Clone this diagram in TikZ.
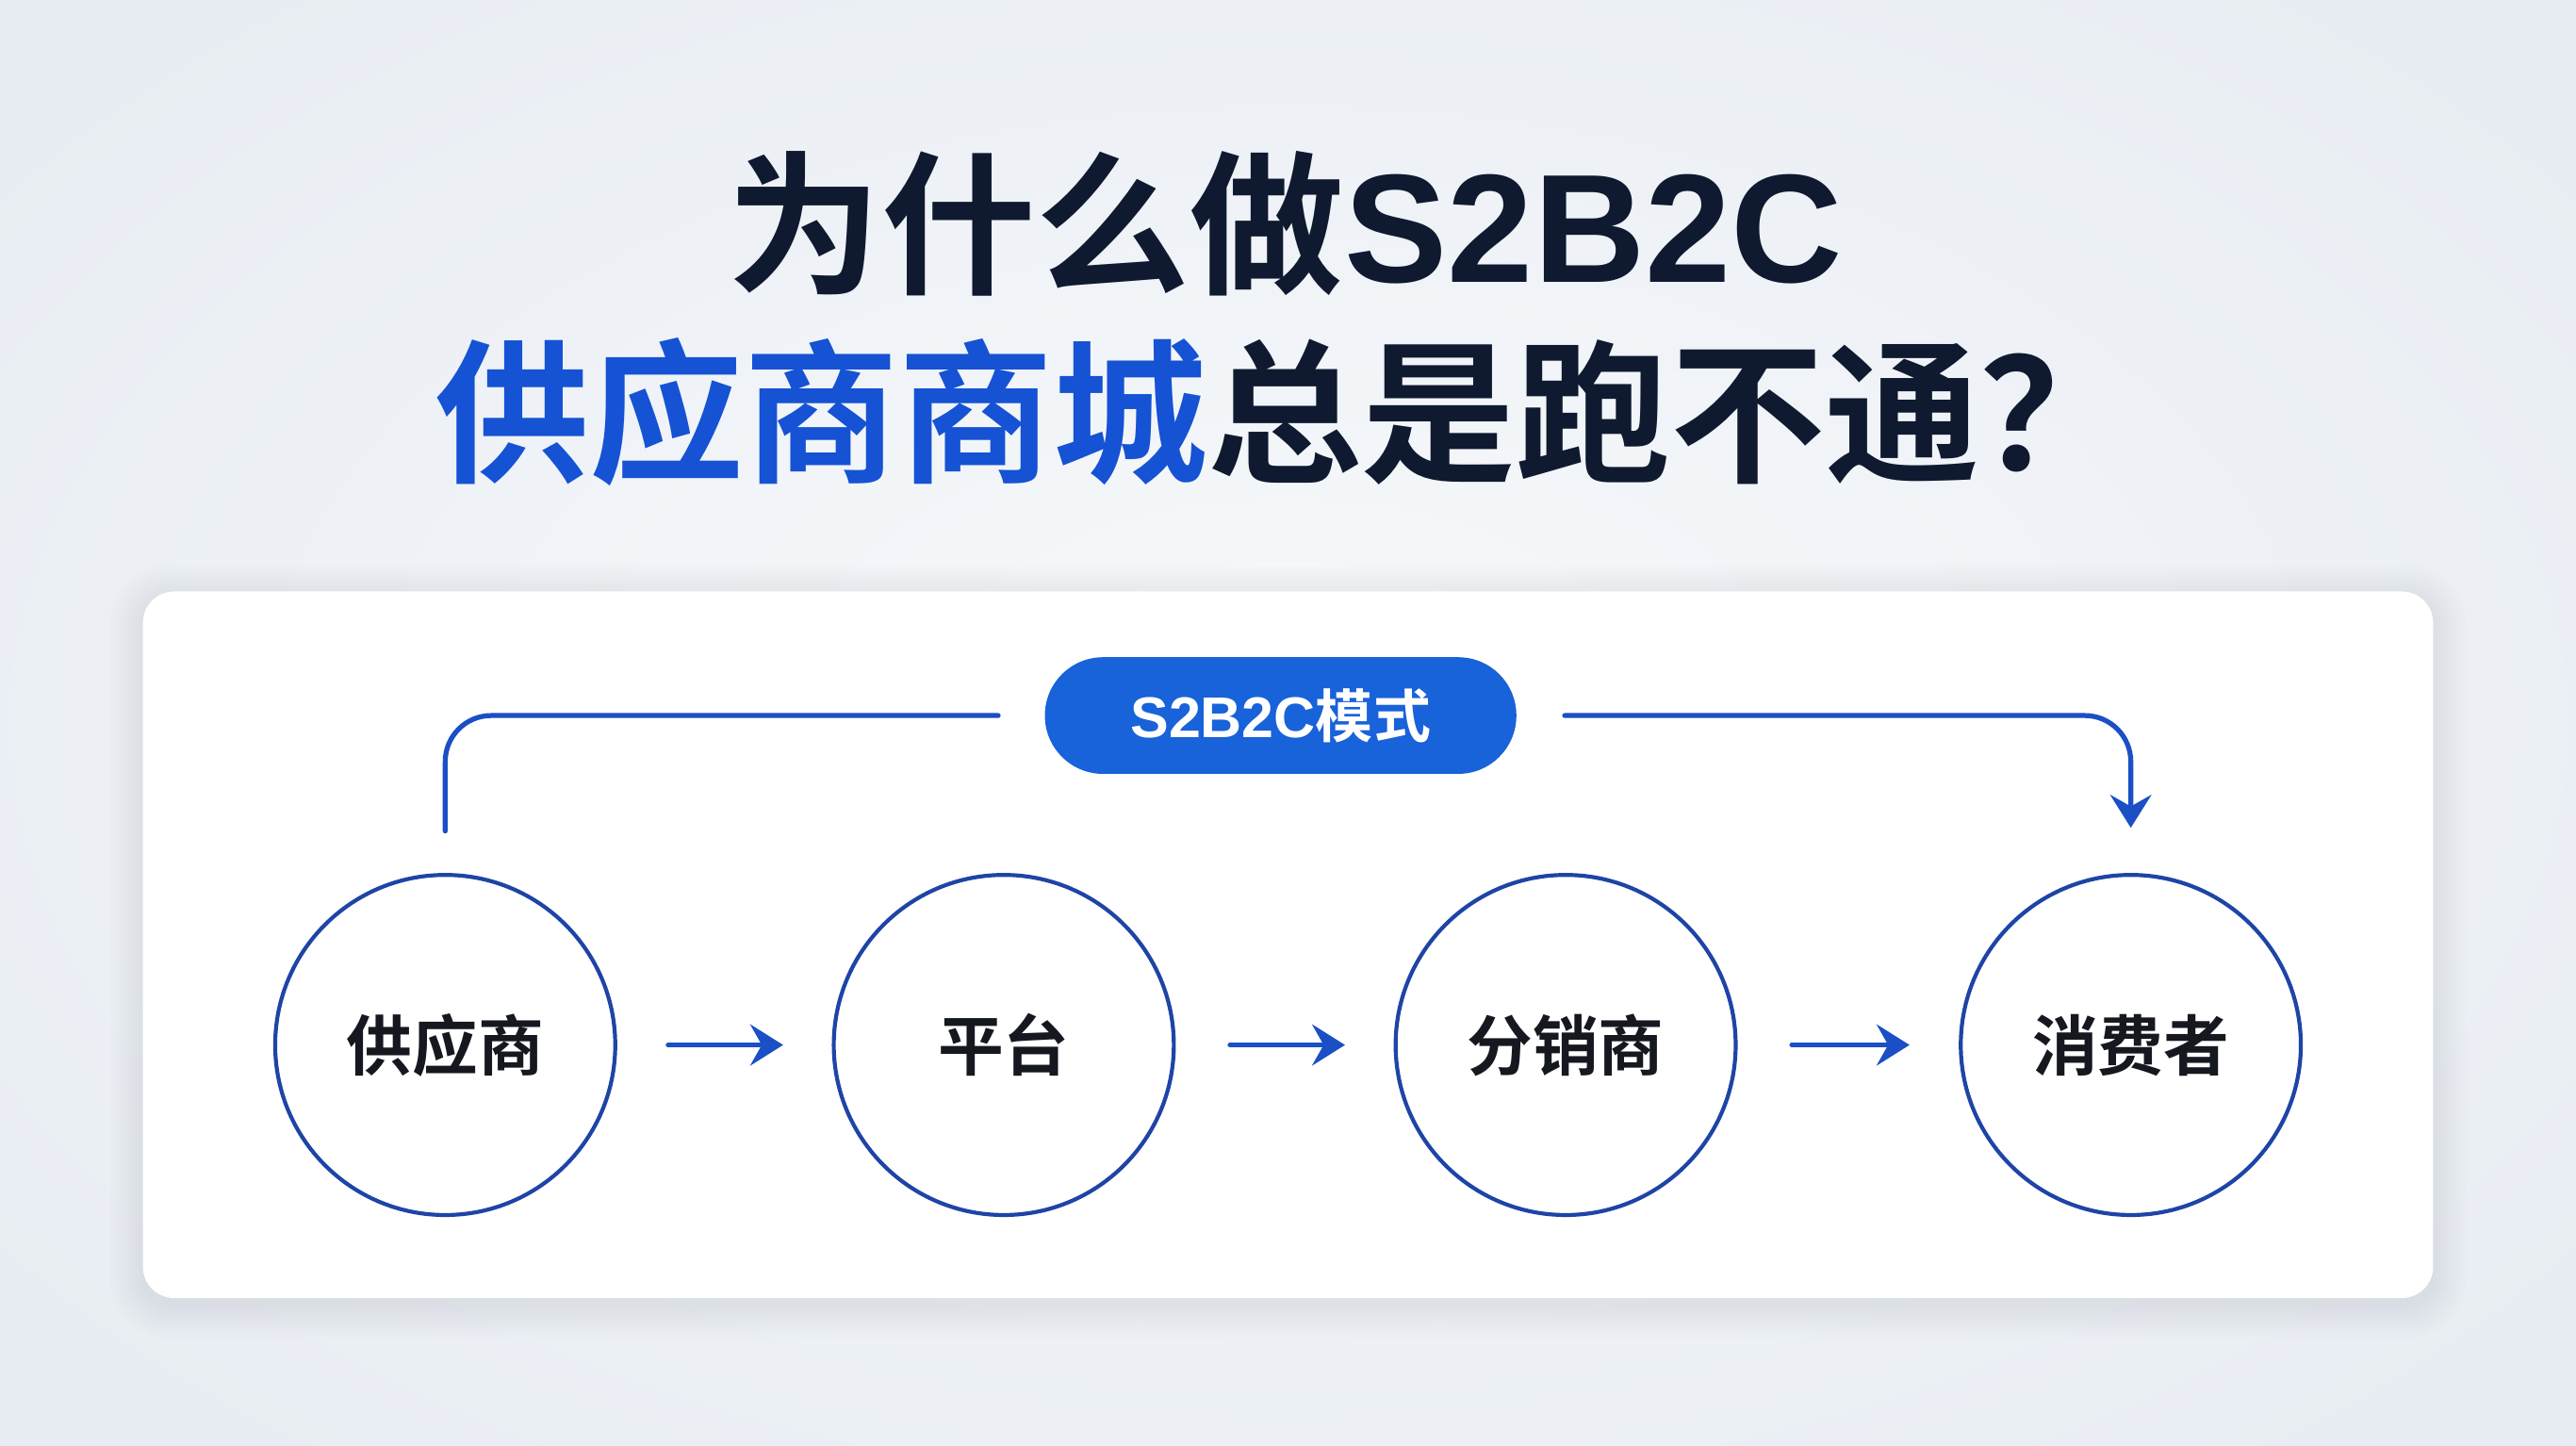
\documentclass[tikz,border=0pt]{standalone}
\usepackage{fontspec}
\setmainfont{Noto Sans CJK SC}[BoldFont=* Bold]
\newfontfamily\latinb{Liberation Sans}[BoldFont=* Bold]
\usetikzlibrary{arrows.meta}
\definecolor{navy}{HTML}{0F1A30}
\definecolor{tblue}{HTML}{1552D4}
\definecolor{lineblue}{HTML}{1A4FC6}
\definecolor{ringblue}{HTML}{1E44A6}
\definecolor{pillblue}{HTML}{1862DA}
\definecolor{bgedge}{HTML}{E8EDF3}
\definecolor{bgmid}{HTML}{F7F9FB}
\definecolor{labelink}{HTML}{15181F}
\tikzset{
  ring/.style={circle, draw=ringblue, line width=1.2pt, minimum size=103.5pt, inner sep=0pt,
    text=labelink, font=\fontsize{20}{24}\selectfont\bfseries},
  pill/.style={rectangle, rounded corners=17.7pt, fill=pillblue, minimum width=143.5pt,
    minimum height=35.5pt, inner sep=0pt, text=white, font=\fontsize{17.5}{21}\selectfont\bfseries},
  titletext/.style={inner sep=0pt, text=navy, font=\fontsize{47}{54}\selectfont\bfseries},
  conn/.style={draw=lineblue, line width=1.5pt, line cap=round, rounded corners=14pt},
  flow/.style={conn, -{Stealth[length=10pt,width=12.5pt,inset=3.5pt]}},
}
\begin{document}
\begin{tikzpicture}[x=0.5pt,y=-0.5pt]
\useasboundingbox (0,0) rectangle (1568,880);
% background with soft vignette
\fill[bgedge] (0,0) rectangle (1568,880);
\shade[inner color=bgmid, outer color=bgedge] (-200,-150) rectangle (1768,1030);
% card shadow
\foreach \i in {1,...,8}{
  \fill[black!70!blue, opacity=0.006, rounded corners=9.5pt+\i pt]
    (87-\i*2.5,360-\i*2.5+4) rectangle (1481+\i*2.5,790+\i*2.5+4);
}
% card
\fill[white, rounded corners=9.5pt] (87,360) rectangle (1481,790);
% title
\node[titletext] (t1) at (782,136) {为什么做{\latinb\bfseries S2B2C}};
\node[titletext] (t2) at (782,251) {\textcolor{tblue}{供应商商城}总是跑不通？};
% pill
\node[pill] (mode) at (779.5,435.5) {{\latinb\bfseries S2B2C}模式};
% circles
\node[ring] (sup)  at (271,636)  {供应商};
\node[ring] (plat) at (611,636)  {平台};
\node[ring] (dist) at (953,636)  {分销商};
\node[ring] (cons) at (1297,636) {消费者};
% horizontal arrows
\draw[flow] ([xshift=15.5pt]sup.east)  -- ([xshift=-14.8pt]plat.west);
\draw[flow] ([xshift=16.5pt]plat.east) -- ([xshift=-14.8pt]dist.west);
\draw[flow] ([xshift=16.5pt]dist.east) -- ([xshift=-15pt]cons.west);
% top connector
\draw[conn] ([yshift=12.75pt]sup.north) |- ([xshift=-14pt]mode.west);
\draw[flow] ([xshift=14.5pt]mode.east) -| ([yshift=13.75pt]cons.north);
\end{tikzpicture}
\end{document}
